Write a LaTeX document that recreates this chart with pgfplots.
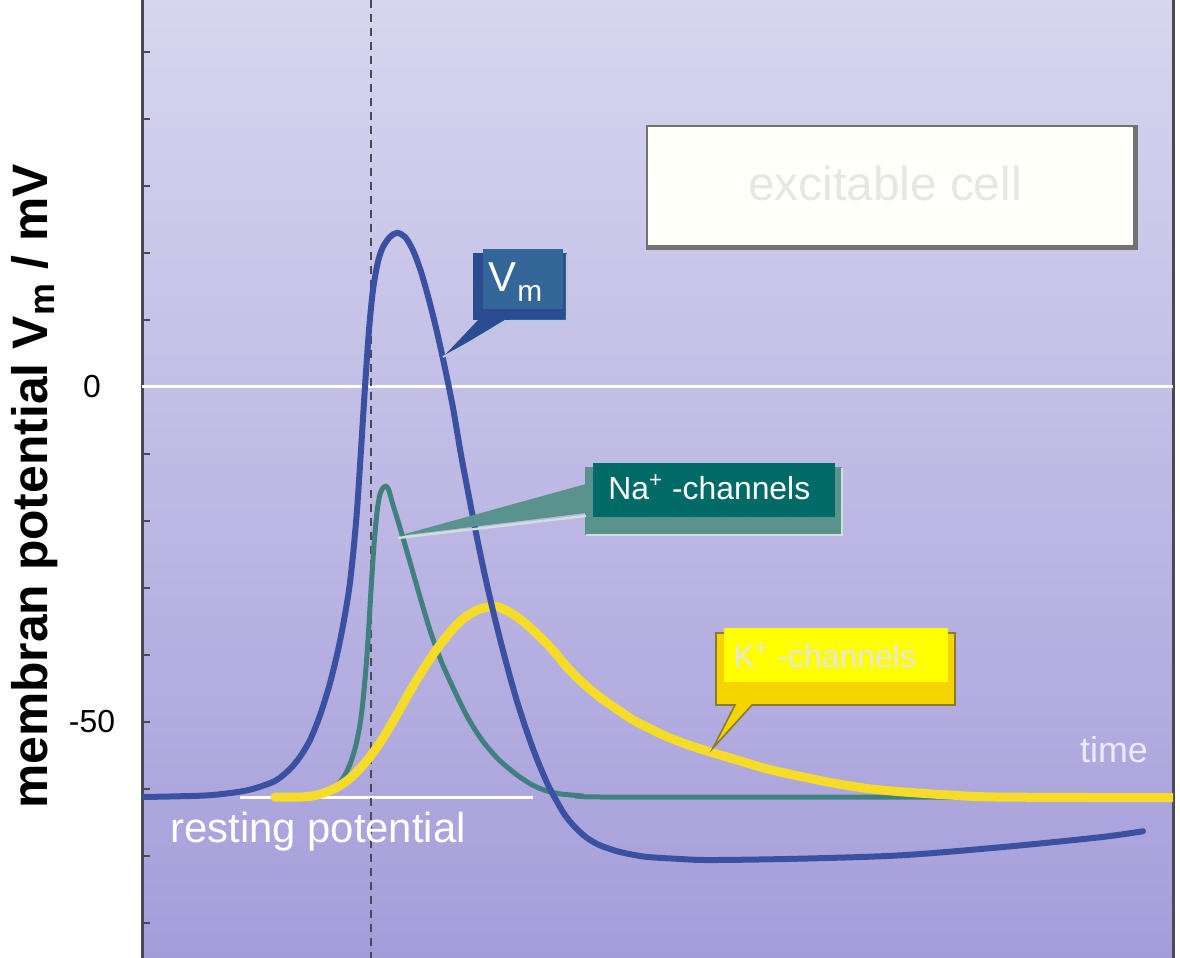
\documentclass[border=0pt]{standalone}
\usepackage{fontspec}
\setmainfont{Liberation Sans}
\usepackage{pgfplots}
\pgfplotsset{compat=1.18}
\definecolor{bgtop}{HTML}{D7D6EF}
\definecolor{bgmid}{HTML}{BEB9E7}
\definecolor{bgbot}{HTML}{A59DDA}
\definecolor{axisgrey}{HTML}{4A4A55}
\definecolor{vmblue}{HTML}{3A50A0}
\definecolor{natealc}{HTML}{40807E}
\definecolor{kyel}{HTML}{F4DC28}
\definecolor{vmnavy}{HTML}{2B4C90}
\definecolor{vmbox}{HTML}{34669A}
\definecolor{nashadow}{HTML}{5A938E}
\definecolor{nabox}{HTML}{006B66}
\definecolor{kgold}{HTML}{F5D400}
\definecolor{kdark}{HTML}{8A7A30}
\definecolor{kbox}{HTML}{FFFF00}
\definecolor{lightgrey}{HTML}{E6E6E6}
\begin{document}
\begin{tikzpicture}
\useasboundingbox (0,0) rectangle (590bp,479bp);
\begin{axis}[
  at={(71bp,0bp)}, anchor=south west,
  scale only axis, width=515.5bp, height=479bp,
  xmin=142, xmax=1173, ymin=-85.22, ymax=57.76,
  axis background/.style={top color=bgtop, middle color=bgmid, bottom color=bgbot},
  separate axis lines,
  x axis line style={draw=none},
  y axis line style={draw=axisgrey, line width=1.5bp},
  xtick=\empty,
  ytick={-50,0},
  minor ytick={-80,-70,-60,-40,-30,-20,-10,10,20,30,40,50},
  ytick pos=left,
  tick align=inside,
  major tick length=4bp, minor tick length=4bp,
  tick style={draw=axisgrey, line width=1bp},
  /pgf/number format/assume math mode=true,
  yticklabel style={anchor=center, xshift=-25bp, font=\fontsize{16}{16}\selectfont},
  ylabel={membran potential V\kern0.5pt\raisebox{-3.5bp}{\fontsize{18}{18}\selectfont m} / mV},
  ylabel style={at={(rel axis cs:-0.1038,0.492)}, anchor=center, font=\fontsize{25}{25}\selectfont\bfseries},
]
% reference lines
\draw[white, line width=1.5bp] (axis cs:142,0) -- (axis cs:1173,0);
\draw[white, line width=1.5bp] (axis cs:240,-61.2) -- (axis cs:533,-61.2);
\draw[axisgrey, line width=1bp, dash pattern=on 4bp off 3bp] (axis cs:371,57.76) -- (axis cs:371,-85.22);
% Na+ channels
\addplot[natealc, line width=2.5bp, smooth, tension=0.5] coordinates {
(300,-61.2) (320,-60.9) (333,-60.0) (343,-58.4) (350,-56.3) (356,-53.4) (361,-49.4)
(365,-43.7) (368,-37.8) (371,-30.3) (374,-23.6) (377,-18.7) (380,-16.0) (384,-14.9)
(388,-15.1) (393,-17.6) (400,-21.0) (408,-25.1) (418,-30.3) (430,-36.3) (442,-41.2)
(455,-45.5) (468,-49.4) (482,-52.7) (498,-55.5) (517,-57.9) (535,-59.6) (555,-60.6)
(580,-61.0) (610,-61.2) (900,-61.2) (1100,-61.2)};
% K+ channels
\addplot[kyel, line width=4.5bp, smooth, tension=0.5, line cap=round] coordinates {
(275,-61.2) (300,-61.2) (317,-60.9) (335,-59.9) (350,-58.4) (365,-56.1) (380,-53.1)
(395,-49.4) (410,-45.4) (423,-42.2) (437,-39.1) (450,-36.6) (463,-34.6) (477,-33.3)
(490,-32.8) (500,-32.9) (517,-34.3) (533,-36.3) (550,-38.8) (567,-41.8) (583,-44.2)
(600,-46.3) (617,-48.1) (633,-49.7) (650,-51.0) (667,-52.2) (690,-53.5) (713,-54.6)
(740,-55.8) (767,-57.0) (800,-58.1) (833,-59.1) (866,-59.9) (900,-60.4) (950,-60.9)
(1000,-61.2) (1173,-61.3)};
% Vm
\addplot[vmblue, line width=3bp, smooth, tension=0.5, line cap=round] coordinates {
(142,-61.2) (200,-61.0) (225,-60.7) (250,-60.1) (275,-58.8) (290,-57.0) (300,-55.2)
(310,-52.7) (320,-49.0) (330,-44.2) (338,-39.3) (344,-34.8) (349,-30.3) (353,-25.1)
(357,-18.4) (361,-9.4) (365,0) (369,8.5) (373,14.5) (378,18.7) (383,20.9) (390,22.4) (397,23.0)
(405,22.4) (413,20.4) (421,17.2) (429,13.0) (437,8.2) (445,2.8) (453,-3.1) (461,-10.1)
(469,-16.4) (477,-22.5) (485,-28.2) (493,-33.4) (501,-38.2) (509,-42.7) (517,-46.9)
(525,-50.6) (533,-54.0) (541,-57.0) (549,-59.7) (557,-61.9) (565,-63.9) (575,-65.7)
(587,-67.3) (600,-68.4) (620,-69.4) (645,-70.1) (675,-70.4) (710,-70.6) (800,-70.4)
(900,-69.9) (1000,-68.7) (1100,-67.2) (1143,-66.3)};
\end{axis}
% annotations in pixel coordinates
\begin{scope}[x=0.5bp, y=-0.5bp, yshift=479bp]
% excitable cell box
\fill[black!55] (646,125) rectangle (1138,250);
\fill[white!98!yellow] (648,127) rectangle (1133,245);
\node[text=lightgrey, font=\fontsize{24}{24}\selectfont, inner sep=0] at (885,183) {excitable cell};
% Vm callout
\fill[vmnavy] (473,253) rectangle (567,320);
\fill[vmnavy] (480,318) -- (443,357) -- (508,318) -- cycle;
\draw[white!65!vmbox, line width=1bp] (443,357) -- (510,321) -- (567,321) -- (567,254);
\fill[vmbox] (483,249) rectangle (563,309);
\node[anchor=base west, text=white, font=\fontsize{21}{21}\selectfont, inner sep=0] at (488,292) {V\kern0.5pt\raisebox{-5bp}{\fontsize{15}{15}\selectfont m}};
% Na+ callout
\fill[nashadow] (585,467) rectangle (842,535);
\fill[nashadow] (586,484) -- (398,536) -- (586,513) -- cycle;
\draw[white!70!nashadow, line width=1.2bp] (398,538) -- (586,516);
\draw[white!70!nashadow, line width=1bp] (586,535) -- (842,535) -- (842,468);
\fill[nabox] (593,463) rectangle (835,517);
\node[anchor=base west, text=white, font=\fontsize{16}{16}\selectfont, inner sep=0] at (608,500) {Na\textsuperscript{+} -channels};
% K+ callout
\filldraw[fill=kgold, draw=kdark, line width=0.8bp] (716,633) -- (955,633) -- (955,705) -- (752,705) -- (713,748) -- (735,705) -- (716,705) -- cycle;
\fill[kbox] (724,628) rectangle (948,682);
\node[anchor=base west, text=lightgrey, font=\fontsize{16}{16}\selectfont, inner sep=0] at (733,668) {K\textsuperscript{+} -channels};
% texts
\node[text=white!92!blue, font=\fontsize{18}{18}\selectfont, inner sep=0] at (1114,750) {time};
\node[anchor=base west, text=white, font=\fontsize{21}{21}\selectfont, inner sep=0] at (170,843) {resting potential};
\end{scope}
\end{tikzpicture}
\end{document}
